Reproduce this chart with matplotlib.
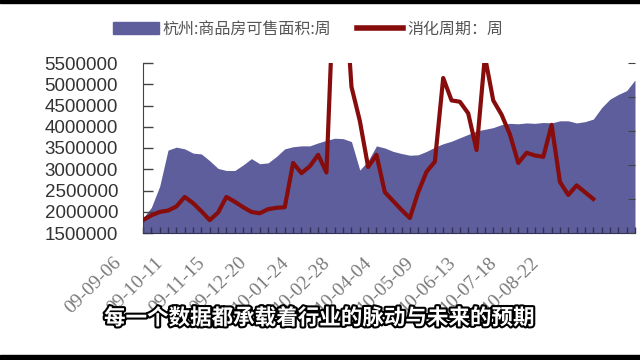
"""
Hangzhou housing stock vs digestion cycle (weekly)
"""

import numpy as np
import matplotlib
matplotlib.use('Agg')
import matplotlib.pyplot as plt
import matplotlib.patheffects as pe
from matplotlib.patches import Rectangle
from matplotlib.lines import Line2D
from matplotlib.transforms import ScaledTranslation

# weekly data, one value per week starting 09-09-06
stock = [1.85, 2.10, 2.60, 3.45, 3.52, 3.48, 3.38, 3.36, 3.20, 3.02,
         2.97, 2.97, 3.10, 3.25, 3.13, 3.15, 3.30, 3.48, 3.53, 3.55,
         3.55, 3.62, 3.68, 3.73, 3.72, 3.65, 2.98, 3.20, 3.55, 3.50,
         3.42, 3.37, 3.33, 3.34, 3.42, 3.52, 3.60, 3.66, 3.74, 3.82,
         3.90, 3.94, 3.98, 4.05, 4.08, 4.07, 4.09, 4.08, 4.10, 4.09,
         4.14, 4.14, 4.09, 4.12, 4.18, 4.45, 4.65, 4.76, 4.85, 5.10]
stock = np.array(stock) * 1e6

cycle = [1.9, 2.6, 3.1, 3.3, 3.9, 5.3, 4.4, 3.2, 1.9, 3.0,
         5.3, 4.6, 3.8, 3.1, 2.9, 3.5, 3.7, 3.8, 10.3, 8.8,
         9.8, 11.5, 8.9, 40, 40, 21.5, 16.5, 9.7, 11.5, 6.0,
         4.7, 3.4, 2.2, 6.0, 9.0, 10.5, 22.8, 19.5, 19.3, 17.6,
         12.2, 26, 19.5, 17.4, 14.5, 10.3, 11.8, 11.4, 11.2, 15.9,
         7.5, 5.6, 7.0, 6.0, 5.0]

date_labels = ['09-09-06', '09-10-11', '09-11-15', '09-12-20', '10-01-24', '10-02-28',
               '10-04-04', '10-05-09', '10-06-13', '10-07-18', '10-08-22']

label_stock = '杭州:商品房可售面积:周'
label_cycle = '消化周期：周'
subtitle = '每一个数据都承载着行业的脉动与未来的预期'

blue = '#5e5e9c'
red = '#870c0c'
cjk = ['Noto Sans CJK SC', 'DejaVu Sans']

fig = plt.figure(figsize=(6.4, 3.6), dpi=100)
ax = fig.add_axes([143/640, 1 - 233/360, (635 - 143)/640, (233 - 63)/360])

x = np.arange(len(stock))
ax.fill_between(x, 1500000, stock, color=blue, linewidth=0)
ax.set_xlim(0, len(stock) - 1)
ax.set_ylim(1500000, 5500000)
ax.set_yticks(np.arange(1500000, 5500001, 500000))
ax.set_yticklabels([str(v) for v in range(1500000, 5500001, 500000)],
                   family='Liberation Sans', fontsize=13.5, color='#333333')
ax.tick_params(axis='y', direction='in', length=7, width=1, color='#444444', pad=18)

ax.set_xticks(np.arange(0, 51, 5))
ax.set_xticks(x, minor=True)
ax.set_xticklabels(date_labels, rotation=45, ha='right', va='top',
                   family='Liberation Serif', fontsize=14, color='#7a7a7a')
ax.tick_params(axis='x', which='both', direction='in', length=4, width=1,
               color='#333355', pad=0)
off = ScaledTranslation(-0.18, -0.21, fig.dpi_scale_trans)
for lab in ax.get_xticklabels():
    lab.set_transform(lab.get_transform() + off)

for s in ['top', 'right']:
    ax.spines[s].set_visible(False)
ax.spines['left'].set_color('#444444')
ax.spines['bottom'].set_color('#333355')

# digestion cycle on a hidden right scale
ax2 = ax.twinx()
ax2.plot(np.arange(len(cycle)), cycle, color=red, linewidth=3, solid_joinstyle='round')
ax2.set_ylim(0, 25)
ax2.set_yticks(np.arange(0, 26, 5))
ax2.set_yticklabels([])
ax2.tick_params(axis='y', direction='in', length=5, color='#444444')
for s in ['top', 'left', 'bottom', 'right']:
    ax2.spines[s].set_visible(False)

handles = [Rectangle((0, 0), 1, 1, color=blue),
           Line2D([], [], color=red, linewidth=4)]
leg = fig.legend(handles, [label_stock, label_cycle], ncol=2, frameon=False,
                 loc='center', bbox_to_anchor=(308/640, 1 - 29/360),
                 prop={'family': cjk, 'size': 11.5},
                 handlelength=2.9, handleheight=0.8, handletextpad=0.25,
                 columnspacing=1.6)
for t in leg.get_texts():
    t.set_color('#555555')

fig.text(319/640, 1 - 318/360, subtitle, ha='center', va='center',
         fontsize=15.5, color='white', family=cjk, fontweight='bold',
         path_effects=[pe.withStroke(linewidth=3, foreground='black')])

# black letterbox edges
fig.patches.append(Rectangle((0, 0), 1, 5/360, transform=fig.transFigure,
                             color='black', zorder=10))
fig.patches.append(Rectangle((0, 1 - 3/360), 1, 3/360, transform=fig.transFigure,
                             color='black', zorder=10))

fig.savefig('out.png', dpi=100)
plt.close(fig)
